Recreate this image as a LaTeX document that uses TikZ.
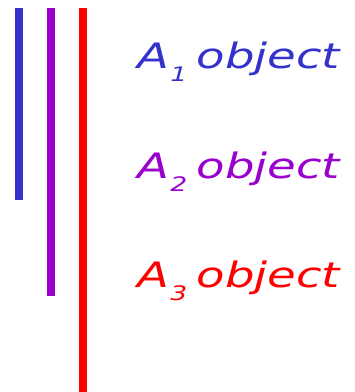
\documentclass[tikz,border=0pt]{standalone}
\usepackage{fontspec}
\setmainfont{DejaVu Sans}
\definecolor{cblue}{HTML}{3333CC}
\definecolor{cpurple}{HTML}{9900CC}
\definecolor{cred}{HTML}{FF0000}
\tikzset{
  bar/.style={line width=8pt},
  label/.style={anchor=base west, inner sep=0pt, font=\fontsize{35}{35}\selectfont\itshape},
}
\newcommand{\objlab}[1]{\scalebox{1.33}[1]{A\hspace{1pt}\raisebox{-13pt}{\fontsize{20}{20}\selectfont #1}\hspace{7pt}object}}
\begin{document}
\begin{tikzpicture}[x=1pt,y=-1pt]
\useasboundingbox (0,0) rectangle (355,392);
\draw[bar,cblue] (19,8) -- (19,200);
\draw[bar,cpurple] (51,8) -- (51,296);
\draw[bar,cred] (83,8) -- (83,392);
\node[label,text=cblue] (a1) at (137,68) {\objlab{1}};
\node[label,text=cpurple] (a2) at (137,178) {\objlab{2}};
\node[label,text=cred] (a3) at (137,287) {\objlab{3}};
\end{tikzpicture}
\end{document}
